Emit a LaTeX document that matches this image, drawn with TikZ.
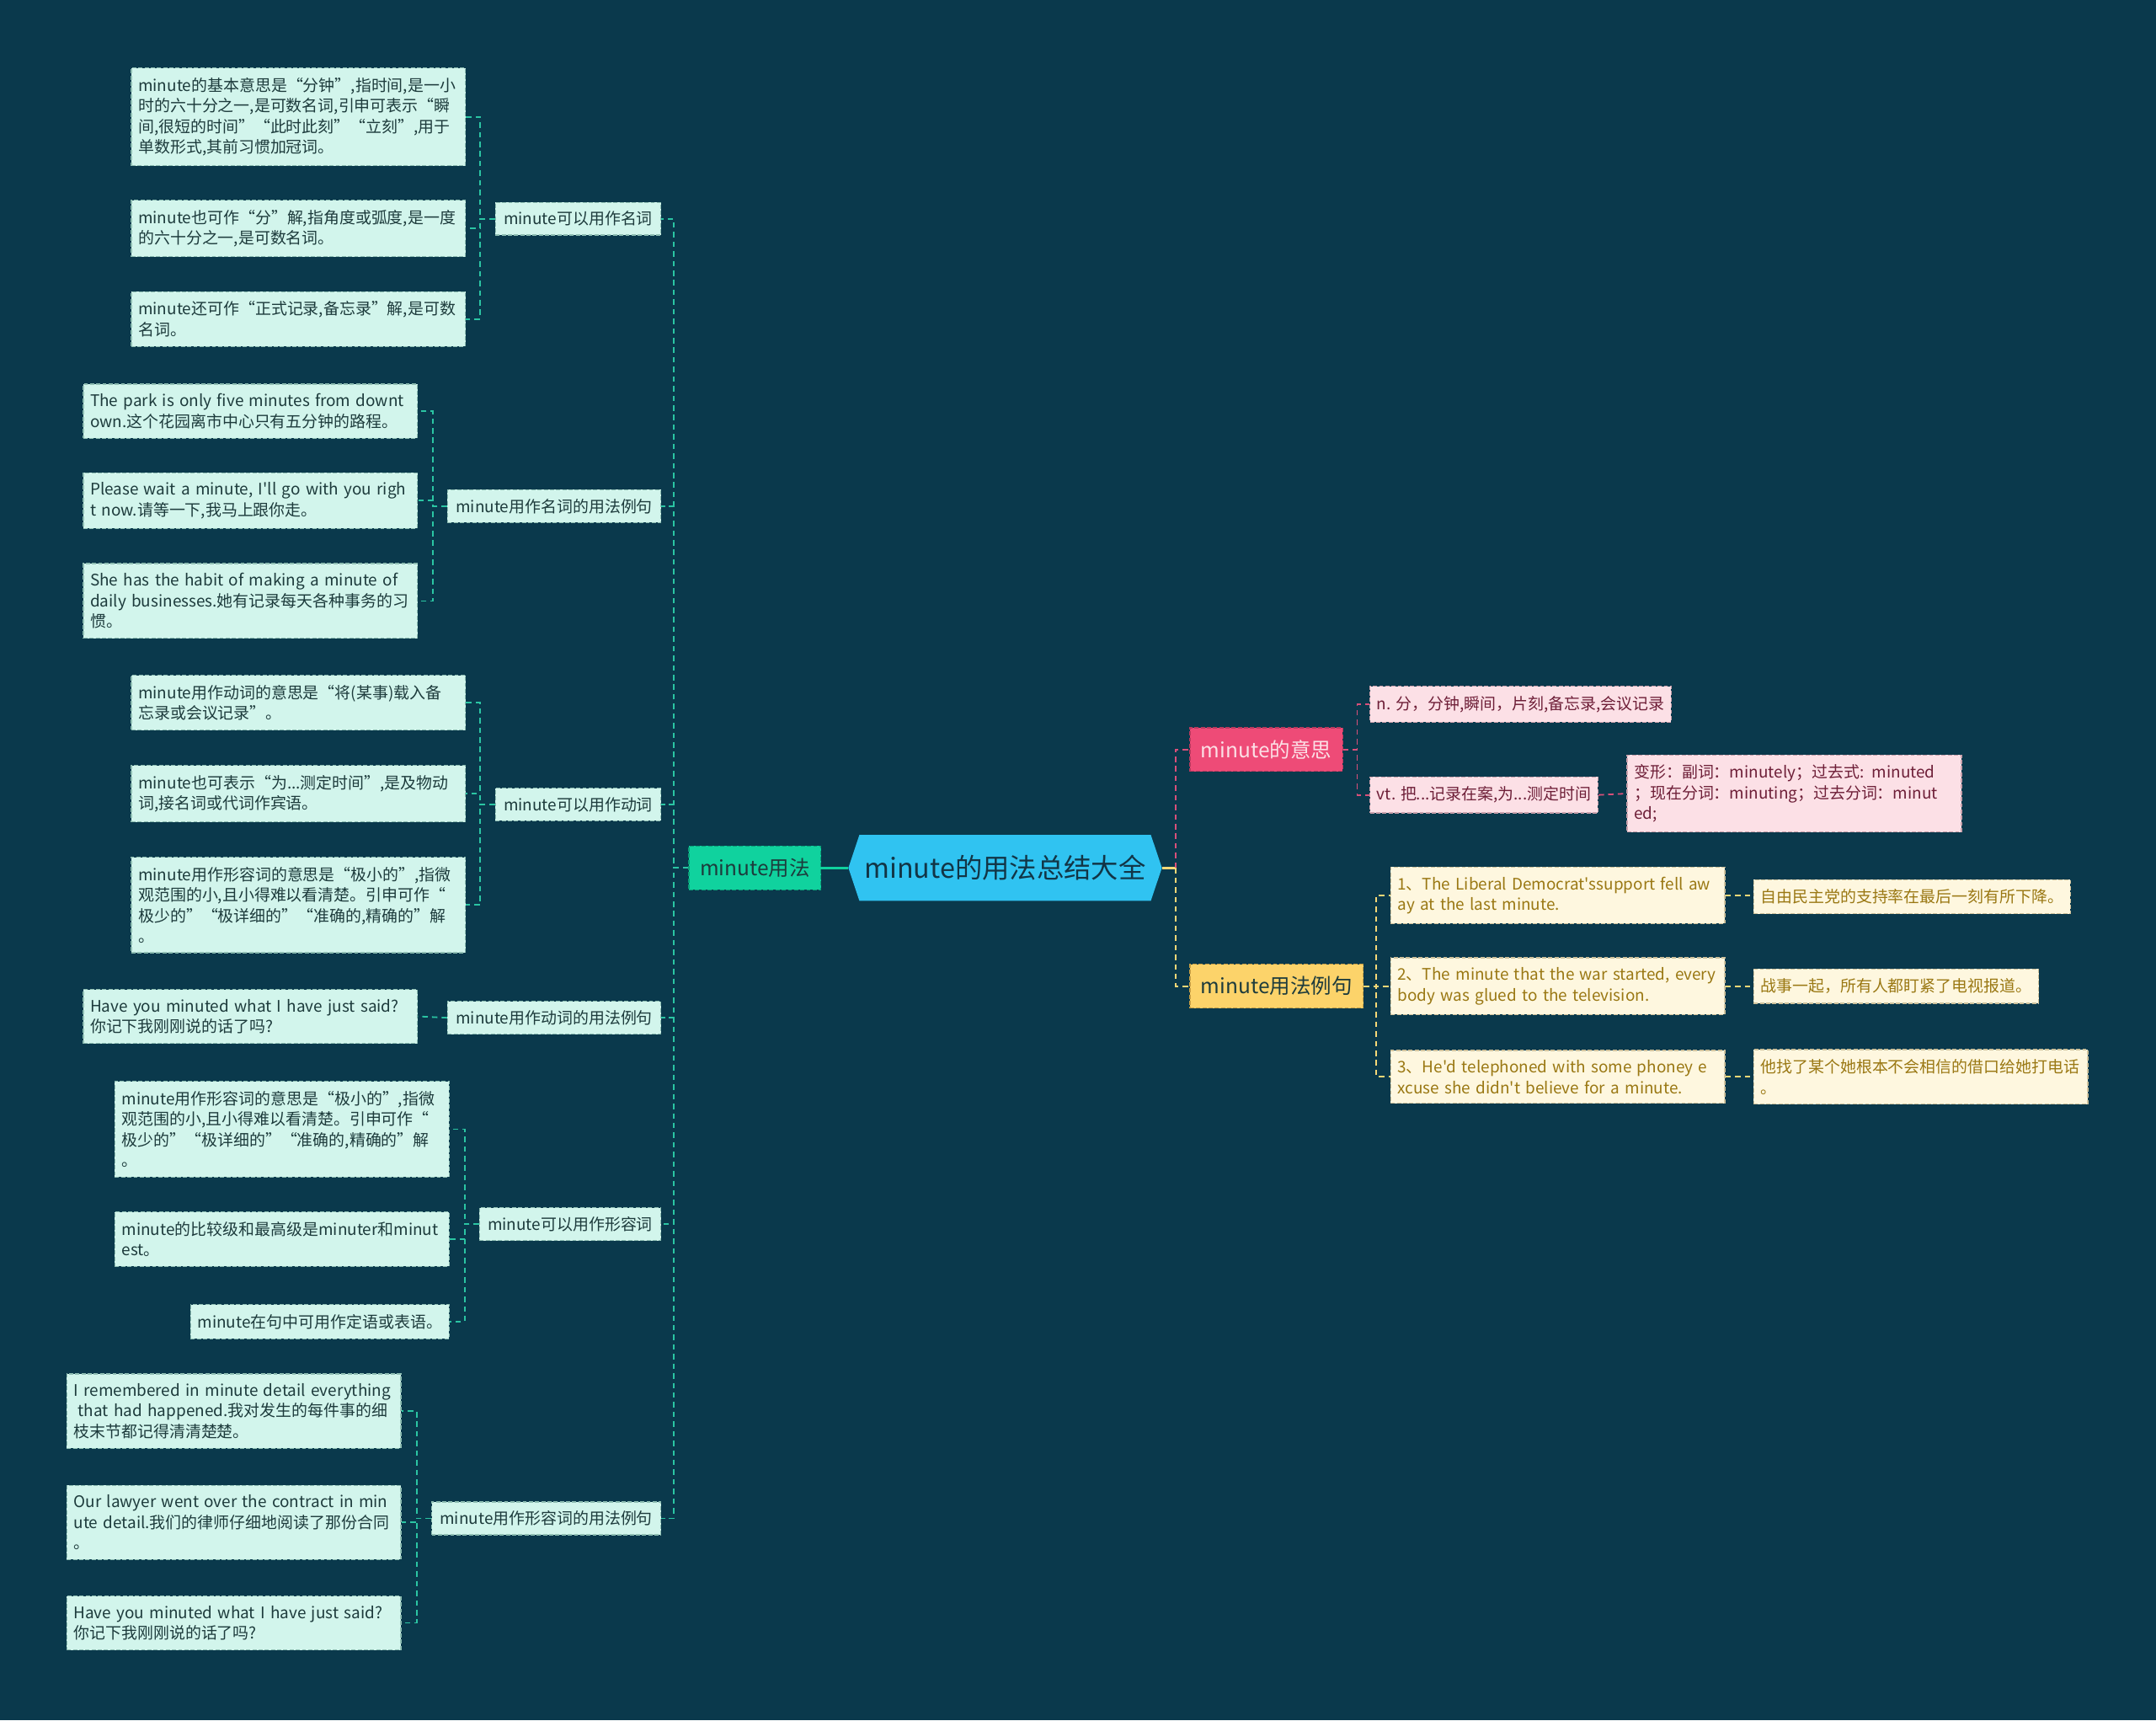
\documentclass[tikz,border=0pt]{standalone}
\usepackage{fontspec}
\setmainfont{Noto Sans CJK SC}[Ligatures=TeXOff]
\usetikzlibrary{positioning,shapes.symbols}
\definecolor{Bg}{HTML}{0A394C}
\definecolor{Mint}{HTML}{D2F5EC}
\definecolor{MintLine}{HTML}{8DBDB2}
\definecolor{MintInk}{HTML}{1D3B3C}
\definecolor{Teal}{HTML}{2BC5A3}
\definecolor{Green}{HTML}{10D29E}
\definecolor{GreenDark}{HTML}{0B9E77}
\definecolor{Sky}{HTML}{30C3F1}
\definecolor{SkyInk}{HTML}{123546}
\definecolor{Rose}{HTML}{EE4B77}
\definecolor{RoseDark}{HTML}{B93A5E}
\definecolor{RoseSoft}{HTML}{FCE0E6}
\definecolor{RoseLine}{HTML}{C9A0AB}
\definecolor{RoseInk}{HTML}{6E1F38}
\definecolor{RoseDash}{HTML}{D9507A}
\definecolor{Sun}{HTML}{FCD36A}
\definecolor{SunDark}{HTML}{C69E45}
\definecolor{SunSoft}{HTML}{FEF7DF}
\definecolor{SunLine}{HTML}{CFC29C}
\definecolor{SunInk}{HTML}{9A7813}
\definecolor{SunDash}{HTML}{F7D877}
\tikzset{
  box/.style={draw,dash pattern=on 3pt off 1.5pt,line width=.8pt,inner xsep=5pt,inner ysep=7pt,
    font=\fontsize{11.6}{15}\selectfont,align=left},
  leaf/.style={box,fill=Mint,draw=MintLine,text=MintInk,text width=233pt},
  leafone/.style={box,fill=Mint,draw=MintLine,text=MintInk},
  topic/.style={box,fill=Mint,draw=MintLine,text=MintInk,inner xsep=6pt,inner ysep=6.5pt},
  roseleaf/.style={box,fill=RoseSoft,draw=RoseLine,text=RoseInk},
  sunleaf/.style={box,fill=SunSoft,draw=SunLine,text=SunInk},
  branch/.style={box,font=\fontsize{15}{18}\selectfont,inner xsep=8pt,inner ysep=9pt},
  tealdash/.style={draw=Teal,line width=1.1pt,dash pattern=on 4pt off 3pt},
  rosedash/.style={draw=RoseDash,line width=1.1pt,dash pattern=on 4pt off 3pt},
  sundash/.style={draw=SunDash,line width=1.1pt,dash pattern=on 4pt off 3pt}
}
\begin{document}
\begin{tikzpicture}[x=1pt,y=-1pt]
  \fill[Bg] (0,0) rectangle (1568,1251);
  \useasboundingbox (0,0) rectangle (1568,1251);
  % centre
  \node[shape=signal,signal to=west and east,signal pointer angle=143,fill=Sky,text=SkyInk,
    minimum width=228pt,minimum height=48pt,inner sep=0pt,font=\fontsize{19.8}{22}\selectfont] (root) at (731,631) {minute的用法总结大全};
  \node[branch,fill=Green,draw=GreenDark,text=MintInk] (usage) at (549,631) {minute用法};
  \draw[Green,line width=2pt] (root.west) -- (usage.east);
  % left topics
  \node[topic,anchor=east] (noun) at (481,159) {minute可以用作名词};
  \node[topic,anchor=east] (nounex) at (481,368) {minute用作名词的用法例句};
  \node[topic,anchor=east] (verb) at (481,585) {minute可以用作动词};
  \node[topic,anchor=east] (verbex) at (481,740) {minute用作动词的用法例句};
  \node[topic,anchor=east] (adj) at (481,890) {minute可以用作形容词};
  \node[topic,anchor=east] (adjex) at (481,1104) {minute用作形容词的用法例句};
  % noun
  \node[leaf,anchor=east] (nounA) at (339,85) {minute的基本意思是“分钟”,指时间,是一小\\时的六十分之一,是可数名词,引申可表示“瞬\\间,很短的时间”“此时此刻”“立刻”,用于\\单数形式,其前习惯加冠词。};
  \node[leaf,anchor=east] (nounB) at (339,166) {minute也可作“分”解,指角度或弧度,是一度\\的六十分之一,是可数名词。};
  \node[leaf,anchor=east] (nounC) at (339,232) {minute还可作“正式记录,备忘录”解,是可数\\名词。};
  \node[leaf,anchor=east] (nounexA) at (304,299) {The park is only five minutes from downt\\own.这个花园离市中心只有五分钟的路程。};
  \node[leaf,anchor=east] (nounexB) at (304,364) {Please wait a minute, I'll go with you righ\\t now.请等一下,我马上跟你走。};
  \node[leaf,anchor=east] (nounexC) at (304,437) {She has the habit of making a minute of\\daily businesses.她有记录每天各种事务的习\\惯。};
  % verb
  \node[leaf,anchor=east] (verbA) at (339,511) {minute用作动词的意思是“将(某事)载入备\\忘录或会议记录”。};
  \node[leaf,anchor=east] (verbB) at (339,577) {minute也可表示“为...测定时间”,是及物动\\词,接名词或代词作宾语。};
  \node[leaf,anchor=east] (verbC) at (339,658) {minute用作形容词的意思是“极小的”,指微\\观范围的小,且小得难以看清楚。引申可作“\\极少的”“极详细的”“准确的,精确的”解\\。};
  \node[leaf,anchor=east] (verbexA) at (304,739) {Have you minuted what I have just said?\\你记下我刚刚说的话了吗?};
  % adjective
  \node[leaf,anchor=east] (adjA) at (327,821) {minute用作形容词的意思是“极小的”,指微\\观范围的小,且小得难以看清楚。引申可作“\\极少的”“极详细的”“准确的,精确的”解\\。};
  \node[leaf,anchor=east] (adjB) at (327,901) {minute的比较级和最高级是minuter和minut\\est。};
  \node[leafone,anchor=east] (adjC) at (327,961) {minute在句中可用作定语或表语。};
  \node[leaf,anchor=east] (adjexA) at (292,1026) {I remembered in minute detail everything\\\hspace*{.28em}that had happened.我对发生的每件事的细\\枝末节都记得清清楚楚。};
  \node[leaf,anchor=east] (adjexB) at (292,1107) {Our lawyer went over the contract in min\\ute detail.我们的律师仔细地阅读了那份合同\\。};
  \node[leaf,anchor=east] (adjexC) at (292,1180) {Have you minuted what I have just said?\\你记下我刚刚说的话了吗?};
  % left connectors
  \coordinate (spineL) at (490,0);
  \coordinate (busA) at (349,0);
  \coordinate (busB) at (315,0);
  \coordinate (busC) at (338,0);
  \coordinate (busD) at (303,0);
  \foreach \t in {noun,nounex,verb,verbex,adj,adjex}
    \draw[tealdash] (usage.west) -- (usage.west -| spineL) |- (\t.east);
  \foreach \c in {nounA,nounB,nounC}
    \draw[tealdash] (noun.west) -- (noun.west -| busA) |- (\c.east);
  \foreach \c in {nounexA,nounexB,nounexC}
    \draw[tealdash] (nounex.west) -- (nounex.west -| busB) |- (\c.east);
  \foreach \c in {verbA,verbB,verbC}
    \draw[tealdash] (verb.west) -- (verb.west -| busA) |- (\c.east);
  \draw[tealdash] (verbex.west) -- (verbexA.east);
  \foreach \c in {adjA,adjB,adjC}
    \draw[tealdash] (adj.west) -- (adj.west -| busC) |- (\c.east);
  \foreach \c in {adjexA,adjexB,adjexC}
    \draw[tealdash] (adjex.west) -- (adjex.west -| busD) |- (\c.east);
  % right side
  \node[branch,fill=Rose,draw=RoseDark,text=RoseSoft,anchor=west] (mean) at (865,545) {minute的意思};
  \node[branch,fill=Sun,draw=SunDark,text=MintInk,anchor=west] (sample) at (865,717) {minute用法例句};
  \node[roseleaf,anchor=west] (meanA) at (996,512) {n. 分，分钟,瞬间，片刻,备忘录,会议记录};
  \node[roseleaf,anchor=west] (meanB) at (996,578) {vt. 把...记录在案,为...测定时间};
  \node[roseleaf,anchor=west,text width=233pt] (form) at (1183,577) {变形：副词：minutely；过去式: minuted\\；现在分词：minuting；过去分词：minut\\ed;};
  \node[sunleaf,anchor=west,text width=233pt] (sampleA) at (1011,651) {1、The Liberal Democrat'ssupport fell aw\\ay at the last minute.};
  \node[sunleaf,anchor=west,text width=233pt] (sampleB) at (1011,717) {2、The minute that the war started, every\\body was glued to the television.};
  \node[sunleaf,anchor=west,text width=233pt] (sampleC) at (1011,783) {3、He'd telephoned with some phoney e\\xcuse she didn't believe for a minute.};
  \node[sunleaf,anchor=west] (transA) at (1275,652) {自由民主党的支持率在最后一刻有所下降。};
  \node[sunleaf,anchor=west] (transB) at (1275,717) {战事一起，所有人都盯紧了电视报道。};
  \node[sunleaf,anchor=west,text width=233pt] (transC) at (1275,783) {他找了某个她根本不会相信的借口给她打电话\\。};
  % right connectors
  \coordinate (spineR) at (855,0);
  \coordinate (busE) at (987,0);
  \coordinate (busF) at (1001,0);
  \draw[SunDash,line width=1.6pt] (root.east) -- (root.east -| spineR);
  \draw[rosedash] (root.east -| spineR) |- (mean.west);
  \draw[sundash] (root.east -| spineR) |- (sample.west);
  \foreach \c in {meanA,meanB}
    \draw[rosedash] (mean.east) -- (mean.east -| busE) |- (\c.west);
  \draw[rosedash] (meanB.east) -- (form.west);
  \foreach \c in {sampleA,sampleB,sampleC}
    \draw[sundash] (sample.east) -- (sample.east -| busF) |- (\c.west);
  \draw[sundash] (sampleA.east) -- (sampleA.east -| transA.west);
  \draw[sundash] (sampleB.east) -- (transB.west);
  \draw[sundash] (sampleC.east) -- (transC.west);
\end{tikzpicture}
\end{document}
